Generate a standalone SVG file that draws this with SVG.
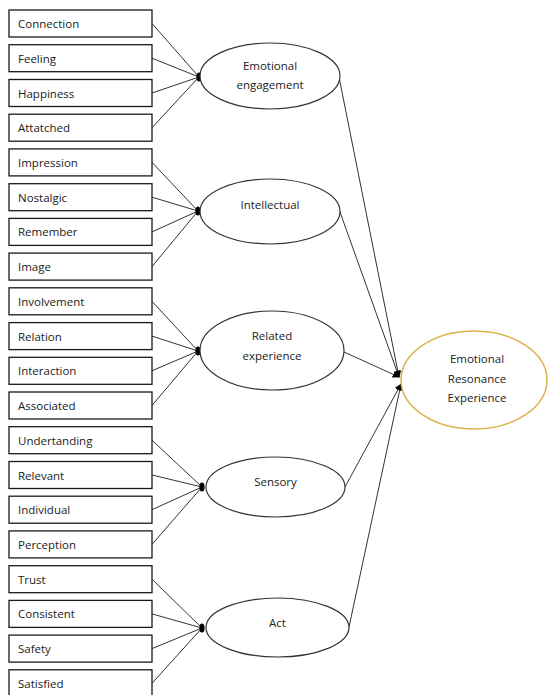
<svg xmlns="http://www.w3.org/2000/svg" width="550" height="695" viewBox="0 0 550 695">
<style>
.box{fill:#fff;stroke:#1a1a1a;stroke-width:1.3}
.ell{fill:#fff;stroke:#333;stroke-width:1.2}
.goal{fill:#fff;stroke:#dcb24a;stroke-width:1.5}
.t{font-family:"Open Sans","Liberation Sans",sans-serif;font-size:11.5px;fill:#222}
.c{text-anchor:middle}
.ln{stroke:#333;stroke-width:1;fill:none}
.dot{fill:#000}
</style>
<defs>
<marker id="ah" viewBox="0 0 10 10" refX="9" refY="5" markerWidth="7" markerHeight="7" orient="auto" markerUnits="userSpaceOnUse">
<path d="M0,0 L10,5 L0,10 z" fill="#000"/>
</marker>
</defs>
<rect width="550" height="695" fill="#fff"/>
<g id="connectors">
<line class="ln" x1="152" y1="23.5" x2="199" y2="77"/>
<line class="ln" x1="152" y1="58.2" x2="199" y2="77"/>
<line class="ln" x1="152" y1="93" x2="199" y2="77"/>
<line class="ln" x1="152" y1="127.7" x2="199" y2="77"/>
<line class="ln" x1="152" y1="162.4" x2="198" y2="211"/>
<line class="ln" x1="152" y1="197.2" x2="198" y2="211"/>
<line class="ln" x1="152" y1="231.9" x2="198" y2="211"/>
<line class="ln" x1="152" y1="266.6" x2="198" y2="211"/>
<line class="ln" x1="152" y1="301.3" x2="198" y2="351"/>
<line class="ln" x1="152" y1="336.1" x2="198" y2="351"/>
<line class="ln" x1="152" y1="370.8" x2="198" y2="351"/>
<line class="ln" x1="152" y1="405.5" x2="198" y2="351"/>
<line class="ln" x1="152" y1="440.2" x2="202" y2="487"/>
<line class="ln" x1="152" y1="475" x2="202" y2="487"/>
<line class="ln" x1="152" y1="509.7" x2="202" y2="487"/>
<line class="ln" x1="152" y1="544.4" x2="202" y2="487"/>
<line class="ln" x1="152" y1="579.2" x2="202" y2="628"/>
<line class="ln" x1="152" y1="613.9" x2="202" y2="628"/>
<line class="ln" x1="152" y1="648.6" x2="202" y2="628"/>
<line class="ln" x1="152" y1="683.3" x2="202" y2="628"/>
<ellipse class="dot" cx="199" cy="77" rx="2.6" ry="4.5"/>
<ellipse class="dot" cx="198" cy="211" rx="2.6" ry="4.5"/>
<ellipse class="dot" cx="198" cy="351" rx="2.6" ry="4.5"/>
<ellipse class="dot" cx="202" cy="487" rx="2.6" ry="4.5"/>
<ellipse class="dot" cx="202" cy="628" rx="2.6" ry="4.5"/>
<line class="ln" x1="339" y1="77" x2="399" y2="377" marker-end="url(#ah)"/>
<line class="ln" x1="340" y1="212" x2="399" y2="377" marker-end="url(#ah)"/>
<line class="ln" x1="344" y1="352" x2="399" y2="377" marker-end="url(#ah)"/>
<line class="ln" x1="345" y1="487" x2="401" y2="384" marker-end="url(#ah)"/>
<line class="ln" x1="349" y1="627" x2="401" y2="384" marker-end="url(#ah)"/>
</g>
<g id="n-connection"><rect class="box" x="9" y="10" width="143" height="27"/><text class="t" x="18" y="28">Connection</text></g>
<g id="n-feeling"><rect class="box" x="9" y="44.7" width="143" height="27"/><text class="t" x="18" y="62.7">Feeling</text></g>
<g id="n-happiness"><rect class="box" x="9" y="79.5" width="143" height="27"/><text class="t" x="18" y="97.5">Happiness</text></g>
<g id="n-attatched"><rect class="box" x="9" y="114.2" width="143" height="27"/><text class="t" x="18" y="132.2">Attatched</text></g>
<g id="n-impression"><rect class="box" x="9" y="148.9" width="143" height="27"/><text class="t" x="18" y="166.9">Impression</text></g>
<g id="n-nostalgic"><rect class="box" x="9" y="183.7" width="143" height="27"/><text class="t" x="18" y="201.7">Nostalgic</text></g>
<g id="n-remember"><rect class="box" x="9" y="218.4" width="143" height="27"/><text class="t" x="18" y="236.4">Remember</text></g>
<g id="n-image"><rect class="box" x="9" y="253.1" width="143" height="27"/><text class="t" x="18" y="271.1">Image</text></g>
<g id="n-involvement"><rect class="box" x="9" y="287.8" width="143" height="27"/><text class="t" x="18" y="305.8">Involvement</text></g>
<g id="n-relation"><rect class="box" x="9" y="322.6" width="143" height="27"/><text class="t" x="18" y="340.6">Relation</text></g>
<g id="n-interaction"><rect class="box" x="9" y="357.3" width="143" height="27"/><text class="t" x="18" y="375.3">Interaction</text></g>
<g id="n-associated"><rect class="box" x="9" y="392" width="143" height="27"/><text class="t" x="18" y="410">Associated</text></g>
<g id="n-undertanding"><rect class="box" x="9" y="426.7" width="143" height="27"/><text class="t" x="18" y="444.7">Undertanding</text></g>
<g id="n-relevant"><rect class="box" x="9" y="461.5" width="143" height="27"/><text class="t" x="18" y="479.5">Relevant</text></g>
<g id="n-individual"><rect class="box" x="9" y="496.2" width="143" height="27"/><text class="t" x="18" y="514.2">Individual</text></g>
<g id="n-perception"><rect class="box" x="9" y="530.9" width="143" height="27"/><text class="t" x="18" y="548.9">Perception</text></g>
<g id="n-trust"><rect class="box" x="9" y="565.7" width="143" height="27"/><text class="t" x="18" y="583.7">Trust</text></g>
<g id="n-consistent"><rect class="box" x="9" y="600.4" width="143" height="27"/><text class="t" x="18" y="618.4">Consistent</text></g>
<g id="n-safety"><rect class="box" x="9" y="635.1" width="143" height="27"/><text class="t" x="18" y="653.1">Safety</text></g>
<g id="n-satisfied"><rect class="box" x="9" y="669.8" width="143" height="27"/><text class="t" x="18" y="687.8">Satisfied</text></g>
<g id="n-emotional-engagement"><ellipse class="ell" cx="270" cy="76" rx="70" ry="33"/><text class="t c" x="270" y="70">Emotional</text><text class="t c" x="270" y="89">engagement</text></g>
<g id="n-intellectual"><ellipse class="ell" cx="270" cy="211.5" rx="70" ry="32.5"/><text class="t c" x="270" y="209">Intellectual</text></g>
<g id="n-related-experience"><ellipse class="ell" cx="272" cy="350.5" rx="72" ry="39.5"/><text class="t c" x="272" y="340">Related</text><text class="t c" x="272" y="360">experience</text></g>
<g id="n-sensory"><ellipse class="ell" cx="275.5" cy="487" rx="69.5" ry="30"/><text class="t c" x="275.5" y="486">Sensory</text></g>
<g id="n-act"><ellipse class="ell" cx="277.5" cy="627.5" rx="71.5" ry="29.5"/><text class="t c" x="277.5" y="627">Act</text></g>
<g id="n-emotional-resonance-experience"><ellipse class="goal" cx="474" cy="380" rx="73" ry="49"/><text class="t c" x="477" y="363">Emotional</text><text class="t c" x="477" y="383">Resonance</text><text class="t c" x="477" y="402">Experience</text></g>
</svg>
